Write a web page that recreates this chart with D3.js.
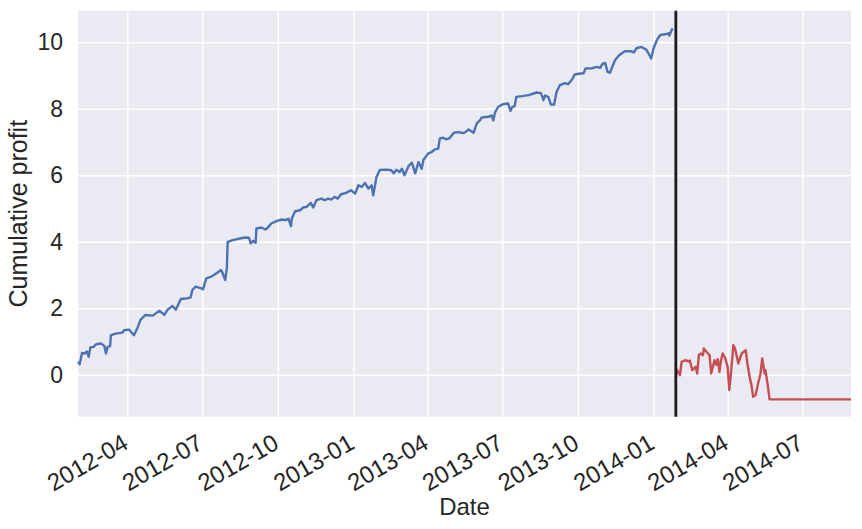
<!DOCTYPE html>
<html>
<head>
<meta charset="utf-8">
<script src="https://cdn.jsdelivr.net/npm/d3@7"></script>
<style>
    body { margin: 0; background: #fff; }
    svg text { font-family: "Liberation Sans", Arial, sans-serif; fill: #262626; }
</style>
</head>
<body>
<div id="chart"></div>
<script>
// in-sample (train) cumulative profit
const trainDates = [
    "2012-02-01","2012-02-03","2012-02-06","2012-02-09","2012-02-12","2012-02-14","2012-02-16","2012-02-20","2012-02-23","2012-02-29",
    "2012-03-04","2012-03-06","2012-03-08","2012-03-11","2012-03-12","2012-03-18","2012-03-26","2012-03-28","2012-04-03","2012-04-09",
    "2012-04-13","2012-04-17","2012-04-23","2012-05-02","2012-05-10","2012-05-16","2012-05-20","2012-05-26","2012-05-30","2012-06-05",
    "2012-06-13","2012-06-17","2012-06-19","2012-06-23","2012-06-30","2012-07-02","2012-07-06","2012-07-12","2012-07-18","2012-07-24",
    "2012-07-26","2012-07-29","2012-07-31","2012-08-01","2012-08-07","2012-08-16","2012-08-22","2012-08-27","2012-08-29","2012-09-01",
    "2012-09-04","2012-09-05","2012-09-11","2012-09-16","2012-09-19","2012-09-23","2012-09-30","2012-10-06","2012-10-10","2012-10-14",
    "2012-10-17","2012-10-18","2012-10-22","2012-10-28","2012-11-01","2012-11-05","2012-11-10","2012-11-13","2012-11-17","2012-11-23",
    "2012-11-27","2012-12-01","2012-12-05","2012-12-09","2012-12-13","2012-12-17","2012-12-23","2012-12-29","2013-01-03","2013-01-07",
    "2013-01-11","2013-01-15","2013-01-19","2013-01-23","2013-01-25","2013-01-29","2013-02-02","2013-02-10","2013-02-16","2013-02-19",
    "2013-02-22","2013-02-26","2013-03-01","2013-03-04","2013-03-09","2013-03-13","2013-03-17","2013-03-21","2013-03-25","2013-03-27",
    "2013-04-02","2013-04-06","2013-04-10","2013-04-14","2013-04-16","2013-04-20","2013-04-24","2013-04-28","2013-05-03","2013-05-09",
    "2013-05-14","2013-05-17","2013-05-21","2013-05-27","2013-05-31","2013-06-04","2013-06-06","2013-06-14","2013-06-18","2013-06-20",
    "2013-06-22","2013-06-26","2013-07-02","2013-07-08","2013-07-11","2013-07-13","2013-07-16","2013-07-18","2013-07-25","2013-08-02",
    "2013-08-08","2013-08-12","2013-08-17","2013-08-20","2013-08-22","2013-08-26","2013-08-29","2013-09-02","2013-09-05","2013-09-09",
    "2013-09-15","2013-09-19","2013-09-24","2013-09-27","2013-10-04","2013-10-08","2013-10-10","2013-10-18","2013-10-24","2013-10-28",
    "2013-10-31","2013-11-03","2013-11-06","2013-11-09","2013-11-11","2013-11-15","2013-11-20","2013-11-27","2013-12-05","2013-12-08",
    "2013-12-11","2013-12-17","2013-12-23","2013-12-27","2013-12-29","2014-01-01","2014-01-05","2014-01-09","2014-01-15","2014-01-19",
    "2014-01-20","2014-01-23","2014-01-24"
];
const trainProfit = [
    0.39,0.32,0.66,0.64,0.70,0.54,0.82,0.84,0.92,0.94,
    0.87,0.64,0.84,0.86,1.19,1.24,1.27,1.34,1.36,1.19,
    1.39,1.65,1.80,1.78,1.93,1.80,1.96,2.07,1.96,2.28,
    2.30,2.33,2.55,2.65,2.60,2.57,2.90,2.95,3.05,3.15,
    3.05,2.85,3.20,4.00,4.05,4.10,4.13,4.12,3.95,4.03,
    3.97,4.40,4.43,4.37,4.43,4.55,4.63,4.67,4.65,4.69,
    4.47,4.70,4.92,4.95,5.03,5.05,5.17,5.03,5.25,5.30,
    5.25,5.30,5.27,5.35,5.30,5.43,5.47,5.55,5.45,5.70,
    5.65,5.77,5.60,5.70,5.40,5.95,6.16,6.17,6.15,6.06,
    6.17,6.10,6.20,6.00,6.28,6.38,6.06,6.40,6.20,6.46,
    6.66,6.70,6.78,6.80,7.11,7.13,7.08,7.12,7.28,7.30,
    7.27,7.30,7.38,7.28,7.56,7.66,7.74,7.76,7.80,7.65,
    7.88,8.06,8.14,8.16,7.94,8.05,8.08,8.36,8.38,8.41,
    8.46,8.49,8.47,8.26,8.40,8.35,8.13,8.13,8.51,8.71,
    8.77,8.74,8.89,9.03,9.06,9.07,9.21,9.22,9.26,9.23,
    9.36,9.38,9.11,9.08,9.22,9.46,9.61,9.73,9.73,9.70,
    9.82,9.86,9.78,9.61,9.51,9.82,10.07,10.22,10.24,10.27,
    10.20,10.37,10.42
];

// out-of-sample (test) cumulative profit
const testDates = [
    "2014-01-28","2014-01-29","2014-02-02","2014-02-04","2014-02-09","2014-02-12","2014-02-14","2014-02-17","2014-02-21","2014-02-23",
    "2014-02-25","2014-02-27","2014-03-02","2014-03-03","2014-03-06","2014-03-10","2014-03-12","2014-03-14","2014-03-16","2014-03-18",
    "2014-03-20","2014-03-22","2014-03-24","2014-03-26","2014-03-29","2014-04-01","2014-04-03","2014-04-05","2014-04-08","2014-04-10",
    "2014-04-14","2014-04-18","2014-04-23","2014-04-25","2014-04-28","2014-04-30","2014-05-02","2014-05-05","2014-05-08","2014-05-11",
    "2014-05-13","2014-05-16","2014-05-17","2014-05-20","2014-05-22","2014-08-29"
];
const testProfit = [
    -0.06,0.16,-0.01,0.39,0.44,0.40,0.43,0.14,0.24,0.04,
    0.59,0.64,0.59,0.79,0.70,0.59,0.04,0.24,0.44,0.30,
    0.47,0.09,0.44,0.64,0.50,0.24,-0.46,0.04,0.89,0.79,
    0.34,0.64,0.74,0.34,-0.10,-0.31,-0.66,-0.61,-0.26,0.04,
    0.49,0.04,0.14,-0.36,-0.74,-0.74
];

const splitDate = "2014-01-28";
const xRange = ["2012-02-01", "2014-08-29"];
const yRange = [-1.26, 10.95];
const yTicks = [0, 2, 4, 6, 8, 10];
const xTickLabels = ["2012-04","2012-07","2012-10","2013-01","2013-04","2013-07","2013-10","2014-01","2014-04","2014-07"];

const width = 862, height = 529;
const margin = {top: 10.7, right: 11, bottom: 112.3, left: 78};
const parseDay = d3.utcParse("%Y-%m-%d");
const parseMonth = d3.utcParse("%Y-%m");

let svg = d3.select("#chart").append("svg")
    .attr("width", width)
    .attr("height", height);

let x = d3.scaleUtc()
    .domain(xRange.map(parseDay))
    .range([margin.left, width - margin.right]);

let y = d3.scaleLinear()
    .domain(yRange)
    .range([height - margin.bottom, margin.top]);

// background
svg.append("rect")
    .attr("x", margin.left)
    .attr("y", margin.top)
    .attr("width", width - margin.left - margin.right)
    .attr("height", height - margin.top - margin.bottom)
    .style("fill", "#EAEAF2");

// grid + tick labels
let xAxis = d3.axisBottom(x)
    .tickValues(xTickLabels.map(parseMonth))
    .tickSize(-(height - margin.top - margin.bottom))
    .tickFormat(d3.utcFormat("%Y-%m"));

let gx = svg.append("g")
    .attr("transform", `translate(0, ${height - margin.bottom})`)
    .call(xAxis);
gx.select(".domain").remove();
gx.selectAll("line").style("stroke", "#fff").style("stroke-width", 1.5);
gx.selectAll("text")
    .style("font-size", "24px")
    .attr("text-anchor", "end")
    .attr("x", 0)
    .attr("y", 0)
    .attr("dy", null)
    .attr("transform", "translate(2, 31) rotate(-30)");

let yAxis = d3.axisLeft(y)
    .tickValues(yTicks)
    .tickSize(-(width - margin.left - margin.right))
    .tickPadding(15);

let gy = svg.append("g")
    .attr("transform", `translate(${margin.left}, 0)`)
    .call(yAxis);
gy.select(".domain").remove();
gy.selectAll("line").style("stroke", "#fff").style("stroke-width", 1.5);
gy.selectAll("text").style("font-size", "23px");

// lines
let line = d3.line()
    .x(d => x(d[0]))
    .y(d => y(d[1]));

svg.append("path")
    .datum(trainDates.map((d, i) => [parseDay(d), trainProfit[i]]))
    .attr("d", line)
    .style("fill", "none")
    .style("stroke", "#4C72B0")
    .style("stroke-width", 2.4)
    .style("stroke-linejoin", "round");

svg.append("path")
    .datum(testDates.map((d, i) => [parseDay(d), testProfit[i]]))
    .attr("d", line)
    .style("fill", "none")
    .style("stroke", "#C44E52")
    .style("stroke-width", 2.4)
    .style("stroke-linejoin", "round");

// train / test split
svg.append("line")
    .attr("x1", x(parseDay(splitDate)))
    .attr("x2", x(parseDay(splitDate)))
    .attr("y1", margin.top)
    .attr("y2", height - margin.bottom)
    .style("stroke", "#1a1a1a")
    .style("stroke-width", 2.8);

// axis titles
svg.append("text")
    .text("Date")
    .attr("x", (margin.left + width - margin.right) / 2)
    .attr("y", 515)
    .attr("text-anchor", "middle")
    .style("font-size", "24px");

svg.append("text")
    .text("Cumulative profit")
    .attr("text-anchor", "middle")
    .attr("transform", `translate(27, ${(margin.top + height - margin.bottom) / 2}) rotate(-90)`)
    .style("font-size", "25px");
</script>
</body>
</html>
